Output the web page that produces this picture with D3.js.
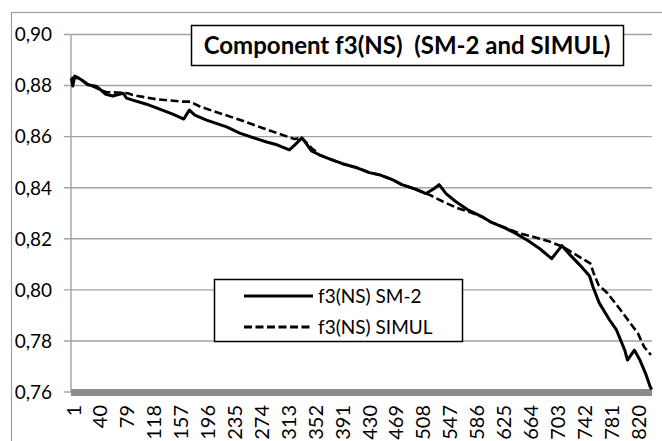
<!doctype html>
<html>
<head>
<meta charset="utf-8">
<script src="https://cdn.jsdelivr.net/npm/d3@7"></script>
<style>
  body { margin: 0; background: #fff; }
  text { font-family: Lato, "Open Sans", sans-serif; }
</style>
</head>
<body>
<svg id="chart" width="662" height="441"></svg>
<script>
const nCats = 842
const sm2Cats = [1, 3, 6, 11, 16, 25, 38, 51, 61, 76, 81, 90, 110, 129, 148, 164, 172, 180, 197, 226,
  245, 270, 284, 299, 317, 325, 335, 342, 349, 361, 375, 394, 415, 433, 447, 466, 480, 501, 515, 527,
  534, 544, 558, 577, 596, 610, 629, 643, 663, 680, 697, 712, 722, 738, 752, 757, 766, 781, 791, 803,
  807, 817, 825, 834, 840, 842]
const sm2Values = [0.8830, 0.8798, 0.8837, 0.8830, 0.8822, 0.8803, 0.8796, 0.8766, 0.8759, 0.8770,
  0.8751, 0.8743, 0.8727, 0.8708, 0.8688, 0.8669, 0.8704, 0.8684, 0.8665, 0.8638,
  0.8614, 0.8591, 0.8579, 0.8568, 0.8548, 0.8568, 0.8595, 0.8571, 0.8544, 0.8528,
  0.8513, 0.8494, 0.8478, 0.8459, 0.8451, 0.8432, 0.8412, 0.8393, 0.8377, 0.8397,
  0.8412, 0.8377, 0.8346, 0.8311, 0.8287, 0.8264, 0.8243, 0.8224, 0.8192, 0.8161,
  0.8122, 0.8173, 0.8142, 0.8097, 0.8054, 0.8011, 0.7949, 0.7882, 0.7843, 0.7764,
  0.7725, 0.7764, 0.7725, 0.7667, 0.7620, 0.7610]

const simulCats = [1, 11, 25, 51, 83, 90, 125, 163, 173, 188, 217, 246, 279, 314, 324, 335, 349, 361,
  375, 394, 415, 433, 447, 466, 480, 501, 521, 540, 560, 577, 596, 610, 651, 670, 694, 713, 733, 753,
  758, 765, 778, 797, 822, 831, 841]
const simulValues = [0.8830, 0.8830, 0.8805, 0.8775, 0.8770, 0.8763, 0.8746, 0.8737, 0.8737, 0.8717,
  0.8691, 0.8665, 0.8633, 0.8600, 0.8591, 0.8595, 0.8556, 0.8528, 0.8513, 0.8494,
  0.8478, 0.8459, 0.8451, 0.8432, 0.8412, 0.8393, 0.8371, 0.8345, 0.8321, 0.8306,
  0.8286, 0.8264, 0.8221, 0.8208, 0.8189, 0.8169, 0.8136, 0.8104, 0.8065, 0.8019,
  0.7987, 0.7921, 0.7830, 0.7777, 0.7745]

const xTickLabels = [1, 40, 79, 118, 157, 196, 235, 274, 313, 352, 391, 430, 469, 508, 547, 586, 625, 664, 703, 742, 781, 820]
const yTicks = [0.76, 0.78, 0.80, 0.82, 0.84, 0.86, 0.88, 0.90]
const titleText = 'Component f3(NS)  (SM-2 and SIMUL)'
const legendNames = ['f3(NS) SM-2', 'f3(NS) SIMUL']

const svg = d3.select('#chart')
const plot = { left: 71, right: 652, top: 34.5, bottom: 392 }
const x = d3.scaleLinear().domain([0.5, nCats + 0.5]).range([plot.left, plot.right])
const y = d3.scaleLinear().domain([0.76, 0.90]).range([plot.bottom, plot.top])
const grid = '#a3a3a3'
const dash = '8,3.5'

// outer chart frame (its right/bottom edges fall outside the picture)
svg.append('rect')
  .attr('x', 11.5).attr('y', 12.5).attr('width', 700).attr('height', 500)
  .attr('fill', 'none').attr('stroke', '#a0a0a0').attr('stroke-width', 1.2)

// horizontal gridlines with left tick stubs
svg.append('g')
  .selectAll('line')
  .data(yTicks.filter(d => d > 0.76))
  .join('line')
  .attr('x1', 64).attr('x2', plot.right)
  .attr('y1', d => y(d)).attr('y2', d => y(d))
  .attr('stroke', grid).attr('stroke-width', 1.4)

svg.append('line')
  .attr('x1', 64).attr('x2', plot.left)
  .attr('y1', y(0.76)).attr('y2', y(0.76))
  .attr('stroke', grid).attr('stroke-width', 1.4)

svg.append('line')
  .attr('x1', plot.left).attr('x2', plot.left)
  .attr('y1', plot.top).attr('y2', plot.bottom)
  .attr('stroke', grid).attr('stroke-width', 1.4)

// thick grey floor along the category axis
svg.append('rect')
  .attr('x', plot.left).attr('y', y(0.76) - 3)
  .attr('width', plot.right - plot.left).attr('height', 7)
  .attr('fill', '#8c8c8c')

// y labels
svg.append('g')
  .selectAll('text')
  .data(yTicks)
  .join('text')
  .attr('x', 52).attr('y', d => y(d))
  .attr('dy', '0.36em')
  .attr('text-anchor', 'end')
  .attr('font-size', 19)
  .attr('fill', '#000')
  .text(d => d3.format('.2f')(d).replace('.', ','))

// x labels, rotated
svg.append('g')
  .selectAll('text')
  .data(xTickLabels)
  .join('text')
  .attr('transform', d => `translate(${x(d) + 2},405) rotate(-90)`)
  .attr('dy', '0.36em')
  .attr('text-anchor', 'end')
  .attr('font-size', 20)
  .attr('fill', '#000')
  .text(d => d)

// series
const line = d3.line().x(d => x(d[0])).y(d => y(d[1]))
svg.append('path')
  .datum(simulCats.map((c, i) => [c, simulValues[i]]))
  .attr('d', line)
  .attr('fill', 'none').attr('stroke', '#000').attr('stroke-width', 2.6)
  .attr('stroke-dasharray', dash)

svg.append('path')
  .datum(sm2Cats.map((c, i) => [c, sm2Values[i]]))
  .attr('d', line)
  .attr('fill', 'none').attr('stroke', '#000').attr('stroke-width', 3)
  .attr('stroke-linejoin', 'round')

// title box
svg.append('rect')
  .attr('x', 191.5).attr('y', 25.5).attr('width', 432).attr('height', 40)
  .attr('fill', '#fff').attr('stroke', '#000').attr('stroke-width', 1.5)
svg.append('text')
  .attr('x', 407).attr('y', 54)
  .attr('text-anchor', 'middle')
  .attr('font-size', 24).attr('font-weight', 'bold')
  .style('white-space', 'pre')
  .attr('fill', '#000')
  .text(titleText)

// legend
svg.append('rect')
  .attr('x', 214.5).attr('y', 279.5).attr('width', 248).attr('height', 62)
  .attr('fill', '#fff').attr('stroke', '#000').attr('stroke-width', 1.5)

const legend = svg.append('g')
  .selectAll('g')
  .data(legendNames)
  .join('g')
  .attr('transform', (d, i) => `translate(0,${296 + i * 31})`)

legend.append('line')
  .attr('x1', 244).attr('x2', 313)
  .attr('stroke', '#000').attr('stroke-width', 3)
  .attr('stroke-dasharray', (d, i) => i ? dash : null)

legend.append('text')
  .attr('x', 318).attr('dy', '0.36em')
  .attr('font-size', 19)
  .attr('fill', '#000')
  .text(d => d)
</script>
</body>
</html>
